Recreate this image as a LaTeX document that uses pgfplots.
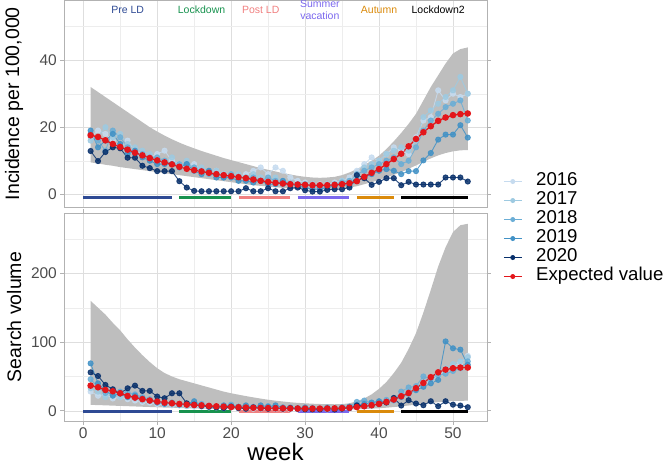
\documentclass[border=0pt]{standalone}
\usepackage{fontspec}
\setmainfont{Liberation Sans}
\usepackage{pgfplots}
\pgfplotsset{compat=1.18}
\usepackage{pgfplotstable}
\usepgfplotslibrary{fillbetween}

\definecolor{c16}{HTML}{C6DBEF}
\definecolor{c17}{HTML}{9ECAE1}
\definecolor{c18}{HTML}{6BAED6}
\definecolor{c19}{HTML}{4292C6}
\definecolor{c20}{HTML}{08306B}
\definecolor{cred}{HTML}{E3161B}
\definecolor{rib}{HTML}{BEBEBE}
\definecolor{cpre}{HTML}{2E4A94}
\definecolor{clock}{HTML}{17924E}
\definecolor{cpost}{HTML}{F08080}
\definecolor{csum}{HTML}{7B68EE}
\definecolor{caut}{HTML}{DA8A0B}

\pgfplotstableread{
week y16 y17 y18 y19 y20 exp lo hi
1 17 16 18 19 12.9 17.6 9.5 32
2 19 17 16 14 9.9 17.1 9.2 30.5
3 18 20 13 16 12.6 16.1 8.8 29
4 16 17 19 18 14.0 15.0 8.5 27.5
5 14 18 17 15 13.7 14.1 8.1 26
6 16 15 14 12 10.9 13.3 7.8 24.5
7 13 14 12 13 10.9 12.4 7.5 23
8 12 13 12 11 8.5 11.6 7.2 21.5
9 11 12 11 10 7.8 10.8 6.9 20
10 12 10 11 9 6.9 10.1 6.6 18.7
11 13 10 10 9 6.9 9.5 6.3 17.5
12 10 11 9 9 6.9 8.9 6.0 16.4
13 9 8 9 8 3.9 8.2 5.7 15.4
14 8 10 9 9 2.0 7.6 5.4 14.5
15 9 8 8 7 1.0 7.2 5.1 13.7
16 7 8 7 6 0.9 6.8 4.8 12.9
17 6 7 6 7 0.9 6.4 4.5 12.2
18 7 7 6 5 0.9 6.0 4.2 11.5
19 6 6 5 5 0.9 5.7 3.9 10.8
20 6 5 6 5 0.9 5.4 3.6 10.2
21 5 6 5 4 0.9 5.1 3.3 9.6
22 6 5 5 4 1.8 4.8 3.0 9.0
23 7 6 5 3.5 0.9 4.4 2.7 8.4
24 8 5 4 4 0.9 4.0 2.5 7.8
25 6 4 5 3 1.8 3.7 2.3 7.3
26 8 5 4 3 0.9 3.4 2.1 6.8
27 7 4 3 4 0.9 3.2 1.9 6.3
28 5 3.5 3 3 1.8 3.0 1.7 5.9
29 4 3 3 2.5 2.0 2.9 1.6 5.5
30 3.5 3 3 2 1.2 2.8 1.5 5.2
31 3 3 2.5 1.5 0.8 2.7 1.4 5.0
32 3 2.5 2 1.5 0.8 2.7 1.4 4.9
33 3 3 2.5 2 1.3 2.7 1.4 5.0
34 3.5 3 3 2.5 1.5 2.8 1.5 5.2
35 4 4 3.5 3 1.5 3.0 1.7 5.7
36 5 4 4 2.5 2.0 3.3 2.0 6.5
37 7 5 6 4 5.7 3.9 2.4 7.5
38 9 8 7 5 4.8 5.2 3.0 8.7
39 11 9 8 6 2.8 6.4 3.6 10.0
40 10 10 9 7 3.7 7.5 4.3 11.5
41 12 12 10 7.5 4.8 9.0 5.0 13.5
42 14 13 11 7 4.8 10.5 5.8 15.8
43 13 14 9 6 2.7 12.1 6.6 18.3
44 12 13 10 6.9 3.7 14.3 7.6 21
45 17 16 14 6.9 2.9 16.5 8.6 24
46 22 23 19 10.1 2.9 18.5 9.7 28
47 23 25 22 12.3 2.9 20.3 10.7 32
48 31 27 24 16.3 2.9 21.9 11.6 35.5
49 28 29 26 17.8 5.0 22.9 12.3 39
50 30 31 27 17.8 5.0 23.6 12.8 42
51 29 35 28 20.6 5.0 23.9 13.1 43.3
52 30 30 22 16.9 3.8 24.1 13.2 43.8
}\toptable

\pgfplotstableread{
week y16 y17 y18 y19 y20 exp lo hi
1 28 33 46 69 56 36.7 8.7 160
2 22 28 35 40 50.7 34.3 8.4 150
3 24 20 26 30 37.7 30.4 8.0 140
4 18 25 24 22 31.4 28.5 7.6 128
5 20 20 28 25 25.6 25.6 7.2 117
6 17 22 26 20 32.8 21.7 6.8 104
7 15 18 24 22 36.7 19.3 6.4 92
8 13 15 20 18 29 17.0 6.0 81
9 12 14 17 15 29 15.0 5.6 71
10 10 12 14 12 20.8 13.5 5.2 62
11 9 11 12 10 18.4 12.0 4.8 55
12 8 9 11 12 25.6 11.0 4.5 50
13 8 8 10 9 25.6 10.0 4.2 46
14 7 7 9 10 11 9.0 3.9 43
15 6 9 8 14 9 8.5 3.6 40
16 6 7 10 8 7 8.0 3.3 37
17 5 6 7 7 6 7.2 3.0 34
18 5 5 6 6 5 6.6 2.8 31
19 4 5 5 8 4 6.1 2.6 28
20 5 6 9 7 6 5.6 2.4 25.6
21 4 4 6 6 4 5.2 2.2 23.5
22 3 5 5 8 3 4.8 2.0 21.5
23 3 4 6 5 5 4.5 1.9 19.6
24 4 3 4 8 4 4.2 1.8 17.8
25 3 4 7 6 3 4.0 1.7 16.2
26 3 3 5 8 4 3.8 1.6 14.8
27 2 4 4 5 3 3.6 1.5 13.6
28 2 3 5 4 4 3.5 1.5 12.5
29 2 3 3 4 3 3.4 1.5 11.6
30 2 2 4 5 2 3.3 1.5 11.0
31 2 3 3 4 2 3.3 1.5 10.4
32 2 3 3 3 2 3.3 1.5 10.0
33 3 2 5 4 3 3.4 1.5 9.7
34 3 3 4 3 2 3.6 1.6 9.6
35 3 4 4 5 3 4.0 1.8 9.8
36 4 4 6 6 4 4.6 2.0 11
37 5 6 13 8 8 5.5 2.3 14
38 7 8 15 10 7 6.7 2.7 18
39 8 10 12 12 8 8.2 3.2 24
40 11 12 13 14 10 10.2 3.8 32
41 14 15 16 13 12 13.0 4.6 42
42 17 18 15 16 18.8 16.5 5.5 55
43 20 24 28 20 7.7 21.3 6.6 70
44 26 30 34 25 15.5 26 7.8 90
45 30 32 36 30 10.6 33 9.0 113
46 38 42 50 35 8.2 40.6 10.3 143
47 44 48 46 40 14 49 11.5 176
48 52 55 52 45 6.8 56 12.6 210
49 58 62 54 101 14 60 13.5 238
50 64 68 58 91 9 62 14.2 260
51 70 72 62 89 7.7 63 14.6 270
52 80 78 72 67 5.3 63 14.8 272
}\bottable

\pgfplotsset{
  common/.style={
    scale only axis, width=423pt,
    xmin=-2.6, xmax=54.6,
    xtick={0,10,...,50}, minor xtick={5,15,25,35,45},
    grid=both,
    major grid style={draw=black!13, line width=0.6pt},
    minor grid style={draw=black!7, line width=0.35pt},
    axis line style={draw=black!30, line width=0.8pt},
    tick style={draw=black!30, line width=0.8pt},
    major tick length=3.6pt, minor tick length=0pt,
    tick align=outside,
    tick label style={font=\fontsize{15.5}{15.5}\selectfont, text=black!70},
    /pgf/number format/assume math mode=true,
    ylabel style={at={(axis description cs:-0.118,0.5)}, anchor=center, font=\fontsize{19.5}{19.5}\selectfont},
    clip=false,
  },
  yr/.style={color=#1, line width=0.9pt, mark=*, mark size=2.6pt, opacity=0.85},
  ex/.style={color=cred, line width=1.3pt, mark=*, mark size=2.6pt},
  seg/.style={line width=3pt, color=#1, line cap=butt},
}

\begin{document}
\begin{tikzpicture}[x=1pt,y=1pt]

% ---------- top panel ----------
\begin{axis}[common, at={(64pt,259pt)}, anchor=south west, height=206.5pt,
  ymin=-3.8, ymax=57.8, ytick={0,20,40}, minor ytick={10,30,50},
  xticklabels={}, xtick style={draw=none},
  ylabel={Incidence per 100,000},
  legend cell align=left,
  legend style={at={(axis description cs:1.031,0.18)}, anchor=north west, draw=none, fill=none,
    font=\fontsize{18.6}{18.6}\selectfont, column sep=14pt, row sep=0pt,
    nodes={inner sep=0pt, text height=13.5pt, text depth=5.5pt}},
  legend image code/.code={\draw[#1, mark repeat=2, mark phase=2, mark size=2pt] plot coordinates {(0pt,0pt) (9pt,0pt) (18pt,0pt)};},
]
\addplot[name path=hi, draw=none, forget plot] table[x=week,y=hi]{\toptable};
\addplot[name path=lo, draw=none, forget plot] table[x=week,y=lo]{\toptable};
\addplot[fill=rib, draw=none, forget plot] fill between[of=hi and lo];
\addplot[seg=cpre, forget plot] coordinates {(0,-1) (12,-1)};
\addplot[seg=clock, forget plot] coordinates {(13,-1) (20,-1)};
\addplot[seg=cpost, forget plot] coordinates {(21,-1) (28,-1)};
\addplot[seg=csum, forget plot] coordinates {(29,-1) (36,-1)};
\addplot[seg=caut, forget plot] coordinates {(37,-1) (42,-1)};
\addplot[seg=black, forget plot] coordinates {(43,-1) (52,-1)};
\addplot[yr=c16, forget plot] table[x=week,y=y16]{\toptable};
\addplot[yr=c17, forget plot] table[x=week,y=y17]{\toptable};
\addplot[yr=c18, forget plot] table[x=week,y=y18]{\toptable};
\addplot[yr=c19, forget plot] table[x=week,y=y19]{\toptable};
\addplot[yr=c20, forget plot] table[x=week,y=y20]{\toptable};
\addplot[ex, forget plot] table[x=week,y=exp]{\toptable};
\addlegendimage{color=c16, line width=0.9pt, mark=*}
\addlegendentry{2016}
\addlegendimage{color=c17, line width=0.9pt, mark=*}
\addlegendentry{2017}
\addlegendimage{color=c18, line width=0.9pt, mark=*}
\addlegendentry{2018}
\addlegendimage{color=c19, line width=0.9pt, mark=*}
\addlegendentry{2019}
\addlegendimage{color=c20, line width=0.9pt, mark=*}
\addlegendentry{2020}
\addlegendimage{color=cred, line width=0.9pt, mark=*}
\addlegendentry{Expected value}
\begin{scope}[every node/.style={font=\fontsize{10.5}{12}\selectfont, align=center}]
\node[text=cpre] at (axis cs:6,55) {Pre LD};
\node[text=clock] at (axis cs:16,55) {Lockdown};
\node[text=cpost] at (axis cs:24,55) {Post LD};
\node[text=csum] at (axis cs:32,55) {Summer\\vacation};
\node[text=caut] at (axis cs:40,55) {Autumn};
\node[text=black] at (axis cs:48,55) {Lockdown2};
\end{scope}
\end{axis}

% ---------- bottom panel ----------
\begin{axis}[common, at={(64pt,45pt)}, anchor=south west, height=208pt,
  ymin=-14.75, ymax=287.75, ytick={0,100,200}, minor ytick={50,150,250},
  ylabel={Search volume},
  xlabel={week},
  xlabel style={at={(axis description cs:0.5,-0.148)}, anchor=center, font=\fontsize{24}{24}\selectfont},
]
\addplot[name path=hi2, draw=none] table[x=week,y=hi]{\bottable};
\addplot[name path=lo2, draw=none] table[x=week,y=lo]{\bottable};
\addplot[fill=rib, draw=none] fill between[of=hi2 and lo2];
\addplot[seg=cpre] coordinates {(0,-1) (12,-1)};
\addplot[seg=clock] coordinates {(13,-1) (20,-1)};
\addplot[seg=cpost] coordinates {(21,-1) (28,-1)};
\addplot[seg=csum] coordinates {(29,-1) (36,-1)};
\addplot[seg=caut] coordinates {(37,-1) (42,-1)};
\addplot[seg=black] coordinates {(43,-1) (52,-1)};
\addplot[yr=c16] table[x=week,y=y16]{\bottable};
\addplot[yr=c17] table[x=week,y=y17]{\bottable};
\addplot[yr=c18] table[x=week,y=y18]{\bottable};
\addplot[yr=c19] table[x=week,y=y19]{\bottable};
\addplot[yr=c20] table[x=week,y=y20]{\bottable};
\addplot[ex] table[x=week,y=exp]{\bottable};
\end{axis}
\pgfresetboundingbox
\path[use as bounding box] (0pt,0pt) rectangle (672pt,466pt);
\end{tikzpicture}
\end{document}
